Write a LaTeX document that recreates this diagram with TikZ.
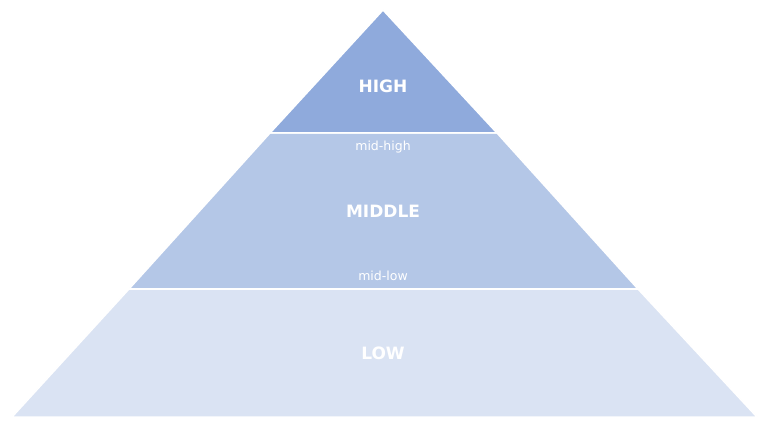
\documentclass[tikz,border=0pt]{standalone}
\usepackage{fontspec}
\setmainfont{DejaVu Sans}
\begin{document}
\begin{tikzpicture}[x=1pt,y=-1pt,
  band/.style={draw=white,line width=1.5pt},
  big/.style={text=white,font=\bfseries\fontsize{17}{20}\selectfont},
  small/.style={text=white,font=\fontsize{12.5}{15}\selectfont}]
\useasboundingbox (0,0) rectangle (768,430);
\coordinate (apex) at (383,10);
\fill[white] (0,0) rectangle (768,430);
\path[band,fill={rgb,255:red,218;green,227;blue,243}] (129,289) -- (638,289) -- (757,417) -- (12,417) -- cycle;
\path[band,fill={rgb,255:red,180;green,199;blue,231}] (270,133) -- (497,133) -- (638,289) -- (129,289) -- cycle;
\path[band,fill={rgb,255:red,143;green,170;blue,220}] (apex) -- (497,133) -- (270,133) -- cycle;
\node[big] (high) at (383,86) {HIGH};
\node[small] (midhigh) at (383,147) {mid-high};
\node[big] (middle) at (383,211) {MIDDLE};
\node[small] (midlow) at (383,276) {mid-low};
\node[big] (low) at (383,353) {LOW};
\end{tikzpicture}
\end{document}
